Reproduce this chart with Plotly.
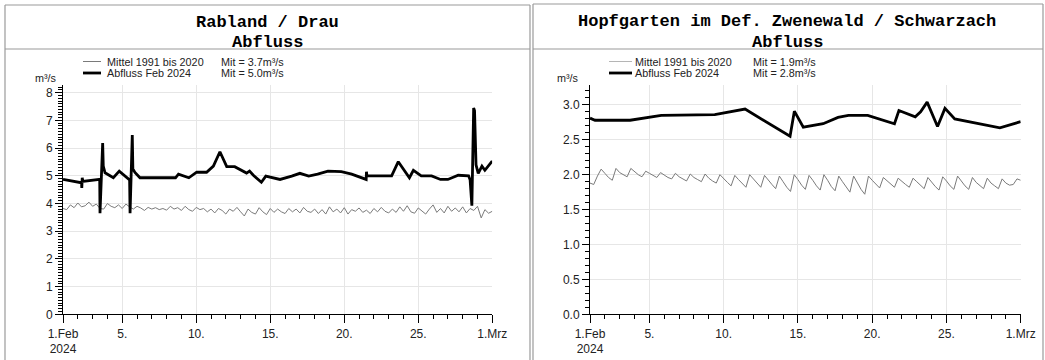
import pandas as pd
import plotly.graph_objects as go

W, H = 1045, 360
BASE = pd.Timestamp("2024-02-01")

# ---------------- data ----------------
titles_left = ["Rabland / Drau", "Abfluss"]
titles_right = ["Hopfgarten im Def. Zwenewald / Schwarzach", "Abfluss"]
legend_names = ["Mittel 1991 bis 2020", "Abfluss Feb 2024"]
mit_left = ["Mit = 3.7m³/s", "Mit = 5.0m³/s"]
mit_right = ["Mit = 1.9m³/s", "Mit = 2.8m³/s"]
unit = "m³/s"

tick_dates = ["2024-02-01", "2024-02-05", "2024-02-10", "2024-02-15",
              "2024-02-20", "2024-02-25", "2024-03-01"]
tick_text = ["1.Feb<br>2024", "5.", "10.", "15.", "20.", "25.", "1.Mrz"]

# Rabland / Drau - Abfluss Feb 2024 (day offset from 1 Feb, m3/s)
left_abf_days = [0.0, 1.25, 1.27, 1.30, 1.33, 2.48, 2.50, 2.68, 2.72, 2.84, 3.4, 3.8,
                 4.3, 4.50, 4.53, 4.68, 4.72, 4.86, 5.2, 7.6, 7.8, 8.5, 9.03, 9.7,
                 10.16, 10.6, 11.06, 11.6, 12.4, 12.6, 12.86, 13.4, 13.7, 14.2, 14.66,
                 15.45, 16.0, 16.6, 17.2, 17.9, 18.8, 19.5, 20.48, 20.50, 20.53,
                 22.2, 22.65, 23.4, 23.67, 24.2, 24.9, 25.5, 26.0, 26.7, 27.4, 27.5,
                 27.62, 27.74, 27.80, 27.90, 28.05, 28.3, 28.5, 28.95, 29.0]
left_abf_vals = [4.87, 4.75, 4.56, 4.93, 4.80, 4.87, 3.65, 6.18, 5.35, 5.11, 4.93, 5.17,
                 4.93, 4.85, 3.65, 6.47, 5.25, 5.12, 4.93, 4.93, 5.06, 4.93, 5.13, 5.13,
                 5.35, 5.87, 5.33, 5.33, 5.10, 5.17, 5.02, 4.77, 4.99, 4.93, 4.87,
                 4.99, 5.09, 4.99, 5.06, 5.17, 5.15, 5.06, 4.87, 5.15, 5.00,
                 5.00, 5.51, 4.93, 5.20, 5.00, 5.00, 4.87, 4.87, 5.02, 5.00, 4.86,
                 3.92, 7.45, 7.35, 5.40, 5.09, 5.35, 5.20, 5.50, 5.50]

# Rabland / Drau - Mittel 1991 bis 2020 (6-hourly from 1 Feb 00:00)
left_mit_vals = [3.82, 3.78, 3.95, 3.85, 4.02, 3.88, 3.92, 4.05, 3.90, 3.98, 3.82, 3.80,
                 4.00, 3.90, 3.85, 3.95, 3.82, 3.98, 3.88, 3.80, 3.90, 3.84, 3.75, 3.86,
                 3.80, 3.85, 3.78, 3.82, 3.76, 3.90, 3.80, 3.85, 3.75, 3.90, 3.78, 3.72,
                 3.86, 3.78, 3.82, 3.70, 3.80, 3.66, 3.82, 3.75, 3.62, 3.80, 3.72, 3.86,
                 3.70, 3.55, 3.80, 3.68, 3.62, 3.85, 3.70, 3.60, 3.82, 3.68, 3.80, 3.70,
                 3.64, 3.82, 3.70, 3.80, 3.66, 3.86, 3.72, 3.68, 3.80, 3.64, 3.78, 3.62,
                 3.88, 3.70, 3.80, 3.66, 3.85, 3.62, 3.78, 3.72, 3.84, 3.68, 3.76, 3.64,
                 3.82, 3.70, 3.86, 3.72, 3.66, 3.80, 3.68, 3.88, 3.72, 3.92, 3.70, 3.65,
                 3.84, 3.72, 3.62, 3.80, 3.95, 3.68, 3.82, 3.66, 3.90, 3.72, 3.84, 3.70,
                 3.88, 3.66, 3.82, 3.75, 3.90, 3.48, 3.78, 3.65, 3.72]

# Hopfgarten - Abfluss Feb 2024
right_abf_days = [0.0, 0.34, 2.7, 4.8, 8.4, 10.44, 13.47, 13.76, 14.36, 15.7, 16.7,
                  17.4, 18.7, 20.5, 20.8, 21.9, 22.26, 22.7, 23.4, 23.9, 24.56, 27.6, 29.0]
right_abf_vals = [2.81, 2.78, 2.78, 2.85, 2.86, 2.94, 2.55, 2.91, 2.68, 2.73, 2.82,
                  2.85, 2.85, 2.73, 2.92, 2.83, 2.90, 3.04, 2.69, 2.95, 2.80, 2.67, 2.76]

# Hopfgarten - Mittel 1991 bis 2020 (6-hourly)
right_mit_vals = [1.88, 1.86, 1.98, 2.08, 2.02, 1.96, 1.92, 2.09, 2.03, 2.00, 1.97, 2.09,
                  2.04, 2.00, 1.97, 2.05, 2.02, 1.99, 1.96, 2.03, 1.99, 1.96, 1.94, 2.02,
                  1.97, 1.94, 1.91, 2.01, 1.96, 1.93, 1.90, 2.01, 1.95, 1.91, 1.88, 2.00,
                  1.94, 1.89, 1.84, 1.99, 1.93, 1.87, 1.82, 2.00, 1.94, 1.88, 1.82, 1.99,
                  1.92, 1.86, 1.80, 1.98, 1.90, 1.82, 1.76, 2.00, 1.93, 1.85, 1.79, 1.99,
                  1.92, 1.84, 1.78, 2.00, 1.92, 1.83, 1.77, 1.98, 1.90, 1.82, 1.75, 1.98,
                  1.88, 1.79, 1.72, 1.98, 1.92, 1.86, 1.81, 1.96, 1.91, 1.87, 1.82, 1.95,
                  1.90, 1.86, 1.82, 1.95, 1.90, 1.85, 1.80, 1.96, 1.89, 1.83, 1.78, 1.97,
                  1.91, 1.84, 1.79, 1.98, 1.91, 1.84, 1.79, 1.96, 1.89, 1.84, 1.80, 1.95,
                  1.88, 1.84, 1.80, 1.94, 1.88, 1.85, 1.86, 1.94, 1.92]

# ---------------- figure ----------------
def to_dates(days):
    return [BASE + pd.Timedelta(days=d) for d in days]

quarter = pd.date_range(BASE, periods=len(left_mit_vals), freq="6h")

MIT_COLOR = "#7a7a7a"
fig = go.Figure()
fig.add_trace(go.Scatter(x=quarter, y=left_mit_vals, mode="lines", name=legend_names[0],
                         line=dict(color=MIT_COLOR, width=1), xaxis="x", yaxis="y"))
fig.add_trace(go.Scatter(x=to_dates(left_abf_days), y=left_abf_vals, mode="lines",
                         name=legend_names[1], line=dict(color="black", width=2.8),
                         xaxis="x", yaxis="y"))
fig.add_trace(go.Scatter(x=quarter, y=right_mit_vals, mode="lines", name=legend_names[0],
                         line=dict(color=MIT_COLOR, width=1), xaxis="x2", yaxis="y2"))
fig.add_trace(go.Scatter(x=to_dates(right_abf_days), y=right_abf_vals, mode="lines",
                         name=legend_names[1], line=dict(color="black", width=2.8),
                         xaxis="x2", yaxis="y2"))

FONT = "Arial, Liberation Sans, sans-serif"
MONO = "Courier New, Liberation Mono, monospace"
GRID = "#e6e6e6"

def px_x(p):
    return p / W

def px_y(p):
    return 1 - p / H

def xaxis_cfg(x0, x1, anchor):
    return dict(type="date", range=["2024-02-01", "2024-03-01"],
                domain=[px_x(x0), px_x(x1)], anchor=anchor, automargin=False,
                tickvals=tick_dates, ticktext=tick_text,
                ticks="outside", ticklen=8, tickcolor="black", tickwidth=1,
                showline=True, linecolor="black", linewidth=1,
                showgrid=True, gridcolor=GRID, gridwidth=1, zeroline=False,
                tickfont=dict(family=FONT, size=12, color="#222"),
                minor=dict(dtick=86400000, ticks="outside", ticklen=4,
                           tickcolor="black", showgrid=False))

def yaxis_cfg(top, dtick, fmt, anchor):
    return dict(range=[0, top], domain=[px_y(314.3), px_y(85)], anchor=anchor,
                automargin=False, dtick=dtick, tick0=0, tickformat=fmt,
                ticks="outside", ticklen=7, tickcolor="black",
                showline=True, linecolor="black", linewidth=1,
                showgrid=True, gridcolor=GRID, zeroline=False,
                tickfont=dict(family=FONT, size=12, color="#222"),
                minor=dict(dtick=0.1, ticks="outside", ticklen=4,
                           tickcolor="black", showgrid=False))

annotations = []
shapes = []

def add_text(x, y, text, size=10.8, family=FONT, xanchor="left", color="#222"):
    annotations.append(dict(x=px_x(x), y=px_y(y), xref="paper", yref="paper",
                            text=text, showarrow=False, xanchor=xanchor,
                            yanchor="middle", font=dict(family=family, size=size,
                                                        color=color)))

def add_hline(x0, x1, y, color, width):
    shapes.append(dict(type="line", xref="paper", yref="paper",
                       x0=px_x(x0), x1=px_x(x1), y0=px_y(y), y1=px_y(y),
                       line=dict(color=color, width=width)))

def add_vline(x, y0, y1, color, width):
    shapes.append(dict(type="line", xref="paper", yref="paper",
                       x0=px_x(x), x1=px_x(x), y0=px_y(y0), y1=px_y(y1),
                       line=dict(color=color, width=width)))

BORDER = "#9a9a9a"
# left panel frame
add_hline(5, 530, 5, BORDER, 1.2)
add_hline(5, 530, 49, BORDER, 1.2)
add_vline(5, 5, 360, BORDER, 1.2)
add_vline(530, 5, 360, BORDER, 1.2)
# right panel frame
add_hline(533, 1043, 4, BORDER, 1.2)
add_hline(533, 1043, 49, BORDER, 1.2)
add_vline(533, 4, 360, BORDER, 1.2)
add_vline(1043, 4, 360, BORDER, 1.2)

# titles
add_text(267, 22, "<b>" + titles_left[0] + "</b>", size=17, family=MONO,
         xanchor="center", color="black")
add_text(267, 42, "<b>" + titles_left[1] + "</b>", size=17, family=MONO,
         xanchor="center", color="black")
add_text(787, 21, "<b>" + titles_right[0] + "</b>", size=17, family=MONO,
         xanchor="center", color="black")
add_text(787, 42, "<b>" + titles_right[1] + "</b>", size=17, family=MONO,
         xanchor="center", color="black")

# legends
L1, L2 = 61.5, 73
add_hline(83, 101, L1, MIT_COLOR, 1)
add_hline(83, 101, L2, "black", 2.8)
add_text(105, L1, legend_names[0])
add_text(105, L2, legend_names[1])
add_text(219, L1, mit_left[0])
add_text(219, L2, mit_left[1])
add_text(33, 77.5, unit)

add_hline(609, 632, L1, "#b5b5b5", 1)
add_hline(609, 632, L2, "black", 2.8)
add_text(633, L1, legend_names[0])
add_text(633, L2, legend_names[1])
add_text(751, L1, mit_right[0])
add_text(751, L2, mit_right[1])
add_text(555, 77.5, unit)

fig.update_layout(
    width=W, height=H,
    margin=dict(l=0, r=0, t=0, b=0, pad=0, autoexpand=False),
    paper_bgcolor="white", plot_bgcolor="white",
    showlegend=False,
    xaxis=xaxis_cfg(63, 492.3, "y"),
    yaxis=yaxis_cfg(8.28, 1, "d", "x"),
    xaxis2=xaxis_cfg(590, 1020.7, "y2"),
    yaxis2=yaxis_cfg(3.285, 0.5, ".1f", "x2"),
    annotations=annotations,
    shapes=shapes,
)

fig.write_html("out.html")
